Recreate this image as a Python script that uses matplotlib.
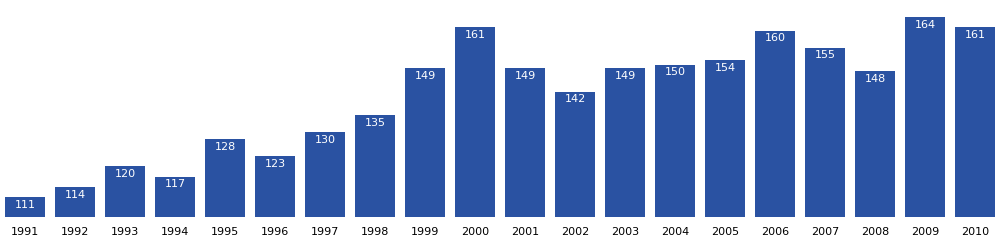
import matplotlib
matplotlib.use('Agg')
import matplotlib.pyplot as plt

years = ['1991', '1992', '1993', '1994', '1995', '1996', '1997', '1998', '1999', '2000',
         '2001', '2002', '2003', '2004', '2005', '2006', '2007', '2008', '2009', '2010']
# bar heights as drawn in the source (2005 bar is drawn shorter than its label)
heights = [111, 114, 120, 117, 128, 123, 130, 135, 149, 161,
           149, 142, 149, 150, 151.2, 160, 155, 148, 164, 161]
labels = [111, 114, 120, 117, 128, 123, 130, 135, 149, 161,
          149, 142, 149, 150, 154, 160, 155, 148, 164, 161]

fig = plt.figure(figsize=(10, 2.5), dpi=100)
ax = fig.add_axes([0, 0.132, 1, 0.868])

x = range(len(years))
ax.bar(x, heights, width=0.8, color='#2a52a2')
for i, h, lab in zip(x, heights, labels):
    ax.annotate(str(lab), (i, h), xytext=(0, -2), textcoords='offset points',
                ha='center', va='top', color='white', fontsize=8)

ax.set_xlim(-0.5, len(years) - 0.5)
ax.set_ylim(105.1, 169.0)
ax.set_xticks(list(x))
ax.set_xticklabels(years, fontsize=8)
ax.tick_params(axis='x', length=0, pad=7)
ax.set_yticks([])
for s in ax.spines.values():
    s.set_visible(False)

fig.savefig('out.png', dpi=100)
